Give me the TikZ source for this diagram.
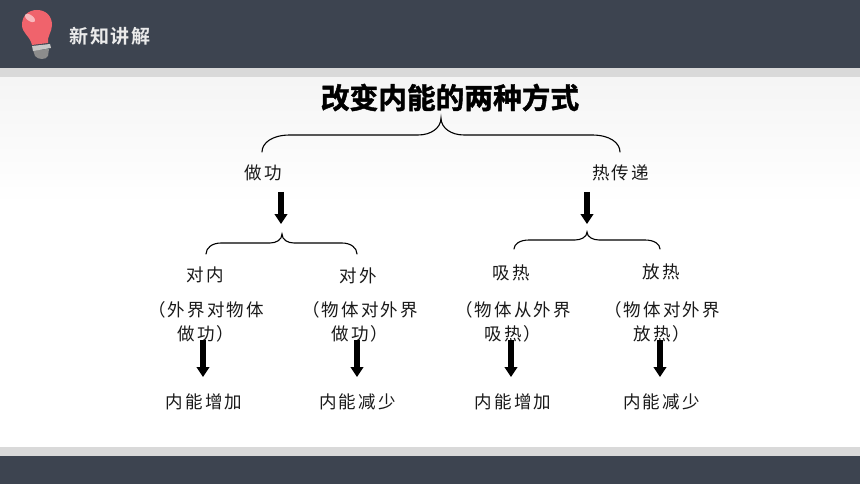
\documentclass[tikz,border=0pt]{standalone}
\usepackage{fontspec}
\usetikzlibrary{arrows.meta}
\newfontfamily\kai[LetterSpace=12]{Noto Sans CJK SC}
\newfontfamily\hei[FakeBold=1.5]{Noto Sans CJK SC Bold}
\newfontfamily\headf[LetterSpace=10]{Noto Sans CJK SC Bold}
\definecolor{bardark}{HTML}{3D4450}
\definecolor{barlight}{HTML}{D9D9D9}
\definecolor{bulbred}{HTML}{F0636C}
\tikzset{
  lbl/.style={font=\kai\fontsize{17.5}{24}\selectfont, text=black!90, align=center, inner sep=0pt, yshift=-1pt},
  bigarrow/.style={line width=6pt, draw=black, -{Triangle[length=10pt,width=12.5pt,fill=black]}},
  bracel/.style={draw=black, line width=1.1pt, line cap=round}
}
\begin{document}
\begin{tikzpicture}[x=1pt,y=-1pt]
\useasboundingbox (0,0) rectangle (860,484);
\fill[white] (0,0) rectangle (860,484);
\shade[top color=black!4, bottom color=white] (0,77) rectangle (860,205);
\fill[bardark] (0,0) rectangle (860,68);
\fill[barlight] (0,68) rectangle (860,77);
\fill[barlight] (0,447) rectangle (860,456);
\fill[bardark] (0,456) rectangle (860,484);
% bulb
\fill[black!45] (33,50) -- (49,49) -- (48,56) .. controls (46,60) and (38,60) .. (35,56) -- cycle;
\fill[black!22] (32,46) -- (50,44) -- (51,48) -- (33,51) -- cycle;
\fill[bulbred] (32,45) .. controls (30,36) and (22,33) .. (22,25) .. controls (22,15) and (29,10) .. (37,10) .. controls (46,10) and (52,16) .. (52,25) .. controls (52,32) and (47,36) .. (48,43) -- cycle;
\fill[white,opacity=.55,rotate around={-35:(30,18)}] (30,18) ellipse (6pt and 3pt);
\node[font=\headf\fontsize{19}{22}\selectfont, text=white!92!black, inner sep=0pt] (head) at (110,36) {新知讲解};
% title
\node[font=\hei\fontsize{28.7}{32}\selectfont, text=black, inner sep=0pt] (title) at (450,97.5) {改变内能的两种方式};
% level 1
\node[lbl] (zg) at (263.5,172) {做功};
\node[lbl] (rcd) at (620.5,172) {热传递};
% level 2
\node[lbl] (dn) at (205.5,274) {对内};
\node[lbl] (dw) at (358.5,275) {对外};
\node[lbl] (xr) at (511.5,272) {吸热};
\node[lbl] (fr) at (661.5,271) {放热};
% level 3
\node[lbl] (dnd) at (206,321) {（外界对物体\\做功）};
\node[lbl] (dwd) at (360,321) {（物体对外界\\做功）};
\node[lbl] (xrd) at (513,321) {（物体从外界\\吸热）};
\node[lbl] (frd) at (662,321) {（物体对外界\\放热）};
% level 4
\node[lbl] (a1) at (204,401) {内能增加};
\node[lbl] (a2) at (357.5,401) {内能减少};
\node[lbl] (a3) at (513,401) {内能增加};
\node[lbl] (a4) at (661.5,401) {内能减少};
% braces
\coordinate (tipa) at (441,118);
\coordinate (tipb) at (282,234);
\coordinate (tipc) at (587,232);
\draw[bracel] (262,152) .. controls (262,143) and (272,135) .. (290,135) -- (418,135) .. controls (431,135) and (441,128) .. (tipa) .. controls (441,128) and (451,135) .. (464,135) -- (592,135) .. controls (610,135) and (620,143) .. (620,152);
\draw[bracel] (206,254) .. controls (206,248) and (212,243) .. (221,243) -- (270,243) .. controls (276,243) and (282,240) .. (tipb) .. controls (282,240) and (288,243) .. (294,243) -- (342,243) .. controls (351,243) and (357,248) .. (357,254);
\draw[bracel] (514,249) .. controls (514,244) and (520,240) .. (529,240) -- (575,240) .. controls (581,240) and (587,237) .. (tipc) .. controls (587,237) and (593,240) .. (599,240) -- (645,240) .. controls (654,240) and (660,244) .. (660,249);
% arrows
\coordinate (s0) at (281,192); \coordinate (e0) at (281,224);
\coordinate (s1) at (587,192); \coordinate (e1) at (587,224);
\draw[bigarrow] (s0) -- (e0);
\draw[bigarrow] (s1) -- (e1);
\draw[bigarrow] (203,340) -- (203,377);
\draw[bigarrow] (357,340) -- (357,377);
\draw[bigarrow] (511,340) -- (511,377);
\draw[bigarrow] (660,340) -- (660,377);
\end{tikzpicture}
\end{document}
